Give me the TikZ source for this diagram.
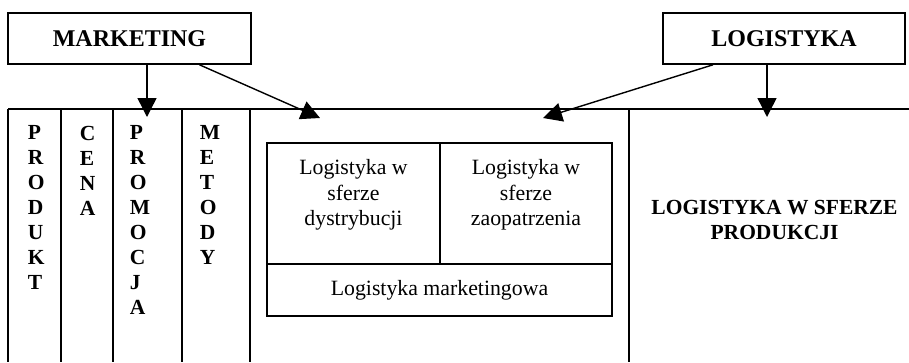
\documentclass[tikz,border=0pt]{standalone}
\usepackage{fontspec}
\setmainfont{Liberation Serif}
\usetikzlibrary{arrows.meta}
\begin{document}
\begin{tikzpicture}[x=1pt,y=-1pt, line width=1.6pt,
  box/.style={draw, rectangle, inner sep=0pt},
  arr/.style={-{Triangle[length=19pt,width=19pt]}, line width=1.4pt},
  reg/.style={font=\fontsize{21.8}{25.5}\selectfont, align=center, inner sep=0pt},
  bld/.style={font=\bfseries\fontsize{21.5}{25}\selectfont, inner sep=0pt},
  head/.style={box, minimum width=243pt, minimum height=51pt, font=\bfseries\fontsize{24}{28}\selectfont}
  ]
\useasboundingbox (0,0) rectangle (909,362);
% header boxes
\node[head] (mk) at (129.5,38.5) {MARKETING};
\node[head, minimum width=242pt] (lg) at (784,38.5) {LOGISTYKA};
% frame lines
\draw (8,109) -- (909,109);
\foreach \x in {8,61,113,182,250,629} \draw (\x,109) -- (\x,362);
% column letters
\node[bld, anchor=north west, align=left] (produkt) at (27,125) {P\\R\\O\\D\\U\\K\\T};
\node[bld, anchor=north west, align=left] (cena) at (79,125) {C\\E\\N\\A};
\node[bld, anchor=north west, align=left] (promocja) at (129,125) {P\\R\\O\\M\\O\\C\\J\\A};
\node[bld, anchor=north west, align=left] (metody) at (199,125) {M\\E\\T\\O\\D\\Y};
% inner boxes
\draw (267,143) rectangle (612,316);
\draw (440,143) -- (440,264);
\draw (267,264) -- (612,264);
\node[reg, anchor=north] (dys) at (353.5,159) {Logistyka w\\sferze\\dystrybucji};
\node[reg, anchor=north] (zao) at (526,159) {Logistyka w\\sferze\\zaopatrzenia};
\node[reg] (mkt) at (439.5,290) {Logistyka marketingowa};
% production
\node[bld, align=center] (prod) at (774.5,220) {LOGISTYKA W SFERZE\\PRODUKCJI};
% arrow tips
\coordinate (t1) at (147,117);
\coordinate (t2) at (320,118);
\coordinate (t3) at (543,118);
\coordinate (t4) at (767,117);
\draw[arr] (mk.south -| t1) -- (t1);
\draw[arr] ([xshift=70pt]mk.south) -- (t2);
\draw[arr] ([xshift=-71pt]lg.south) -- (t3);
\draw[arr] (lg.south -| t4) -- (t4);
\end{tikzpicture}
\end{document}
